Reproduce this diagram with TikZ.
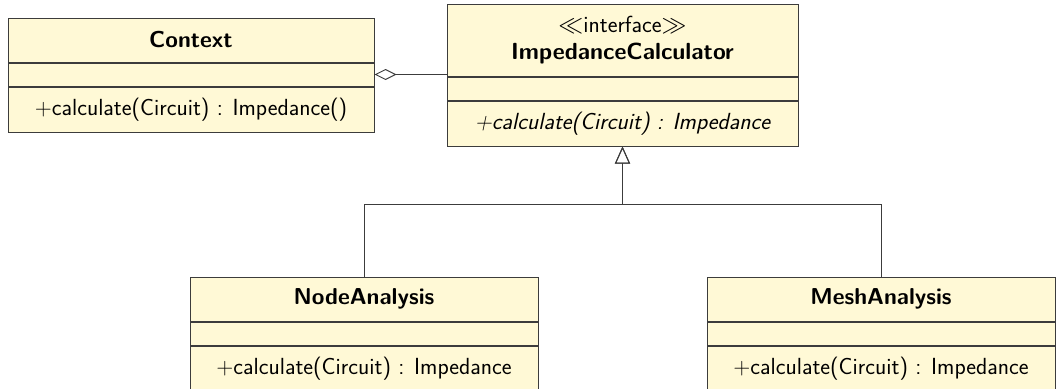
\documentclass[tikz,border=0pt]{standalone}
\usepackage{fontspec}
\usetikzlibrary{positioning, arrows.meta}
\definecolor{umlfill}{RGB}{255,249,214}
\definecolor{umlline}{RGB}{60,60,60}

\begin{document}
\begin{tikzpicture}[x=1pt, y=1pt, node distance=0pt,
		every node/.style={draw=umlline, line width=1pt, fill=umlfill, inner sep=0pt,
			font=\sffamily\fontsize{23.3}{27}\selectfont},
		clase/.style={minimum height=44pt, font=\sffamily\bfseries\fontsize{23}{27}\selectfont},
		campo/.style={minimum height=23pt},
		metodo/.style={minimum height=45pt},
		linea/.style={draw=umlline, line width=1pt},
		hereda/.style={linea, -{Triangle[open, length=17pt, width=15pt]}},
		agrega/.style={linea, {Diamond[open, length=22pt, width=11pt]}-}
		]
		\useasboundingbox (0,0) rectangle (1056,-388);
		
		% Context
		\node[clase, minimum width=366pt] (ctx) at (191,-40) {Context};
		\node[campo, minimum width=366pt, below=of ctx] (ctxatr) {};
		\node[metodo, minimum width=366pt, below=of ctxatr] (ctxop) {+calculate(Circuit) : Impedance()};
		
		% interfaz
		\node[minimum height=72pt, minimum width=351pt, align=center] (ic) at (622.5,-40)
			{$\ll$interface$\gg$\\\textbf{ImpedanceCalculator}};
		\node[campo, minimum width=351pt, below=of ic] (icatr) {};
		\node[metodo, minimum width=351pt, below=of icatr] (icop) {\itshape +calculate(Circuit) : Impedance};
		
		% NodeAnalysis
		\node[clase, minimum width=348pt] (na) at (364,-299) {NodeAnalysis};
		\node[campo, minimum width=348pt, below=of na] (naatr) {};
		\node[metodo, minimum width=348pt, below=of naatr] (naop) {+calculate(Circuit) : Impedance};
		
		% MeshAnalysis
		\node[clase, minimum width=348pt] (ma) at (881,-299) {MeshAnalysis};
		\node[campo, minimum width=348pt, below=of ma] (maatr) {};
		\node[metodo, minimum width=348pt, below=of maatr] (maop) {+calculate(Circuit) : Impedance};
		
		% agregacion
		\draw[agrega] (ctxatr.east) -- (ctxatr.east -| ic.west);
		
		% herencia
		\coordinate (union) at (icop.south |- 0,-204);
		\draw[hereda] (na.north) |- (union) -- (icop.south);
		\draw[hereda] (ma.north) |- (union) -- (icop.south);
		
	\end{tikzpicture}
\end{document}
